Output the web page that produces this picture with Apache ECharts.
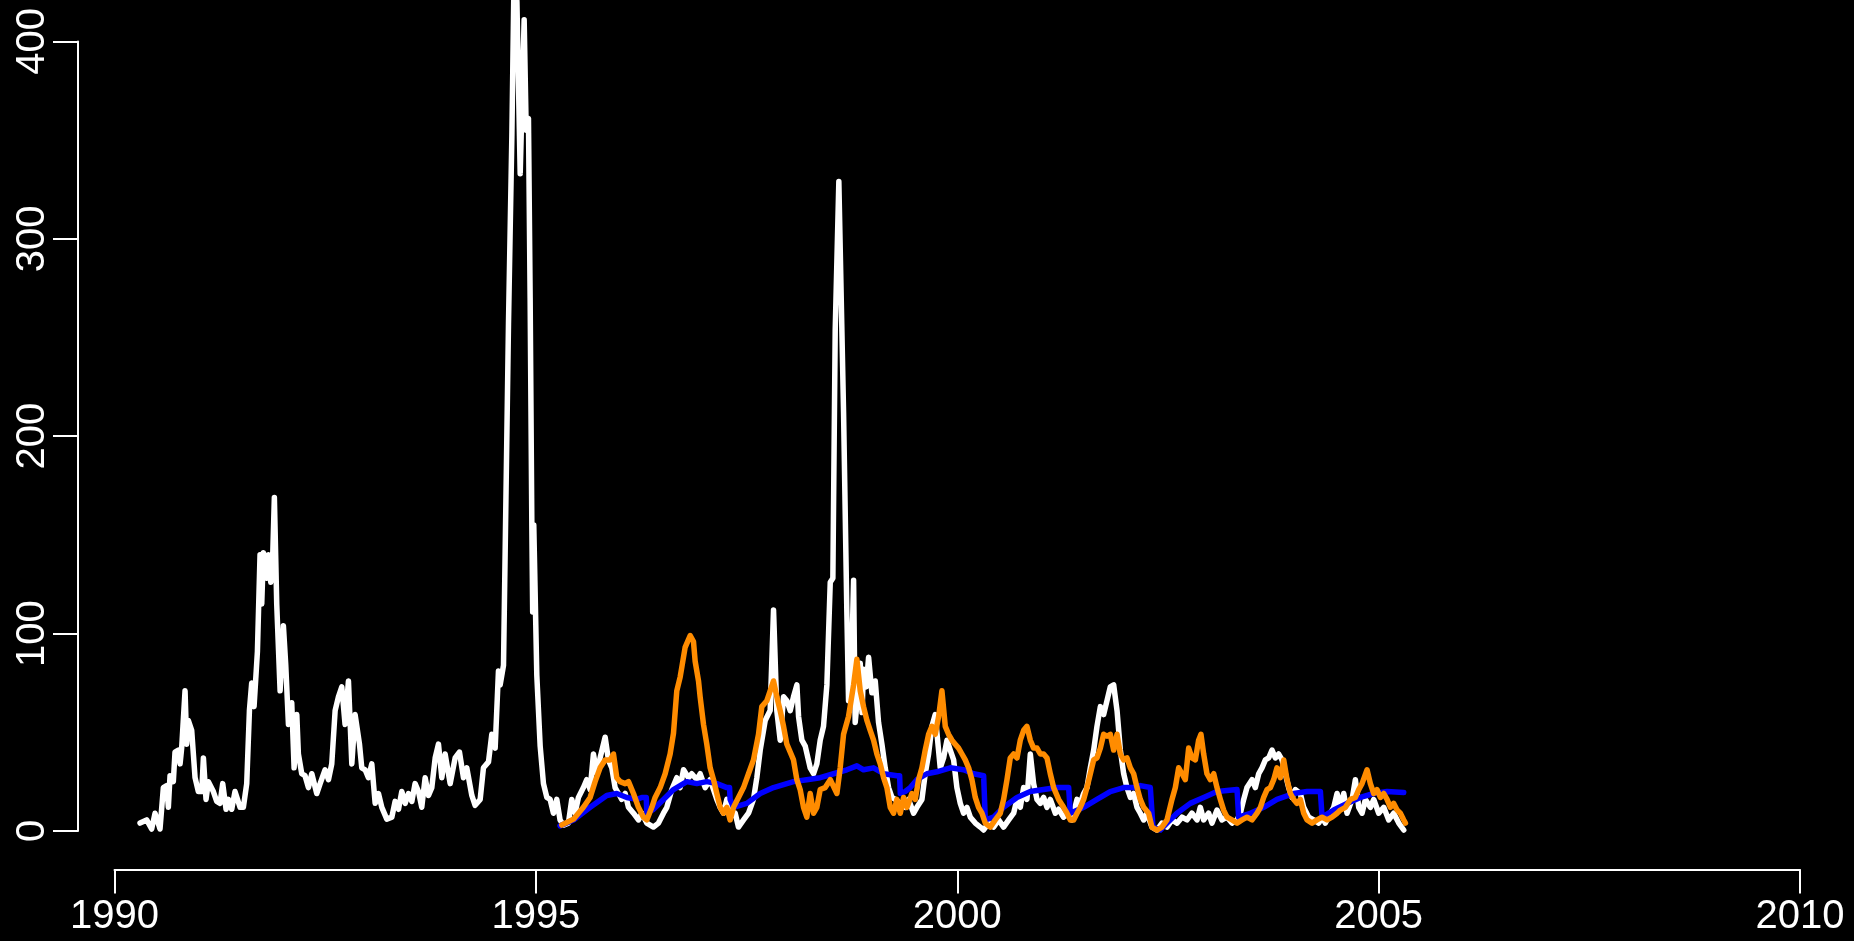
<!DOCTYPE html>
<html>
<head>
<meta charset="utf-8">
<script src="https://cdn.jsdelivr.net/npm/echarts@6/dist/echarts.min.js"></script>
<style>
html,body{margin:0;padding:0;background:#000;}
#chart{width:1854px;height:941px;}
</style>
</head>
<body>
<div id="chart"></div>
<script>
const xTicks = [1990, 1995, 2000, 2005, 2010];
const yTicks = [0, 100, 200, 300, 400];

const observed = [
[1990.303,4],[1990.382,5.6],[1990.441,1],[1990.481,9],[1990.540,1],[1990.580,22],[1990.619,23],[1990.639,12],[1990.659,28],[1990.698,25],[1990.718,40],[1990.758,41],[1990.778,34],[1990.797,42],[1990.837,71],[1990.857,44],[1990.876,56],[1990.916,51],[1990.956,27],[1990.995,20],[1991.035,20],[1991.055,37],[1991.086,16],[1991.114,25],[1991.173,20],[1991.213,15],[1991.252,14],[1991.284,24],[1991.324,11],[1991.351,16],[1991.391,11],[1991.430,20],[1991.490,12],[1991.529,12],[1991.569,24],[1991.601,61],[1991.628,75],[1991.656,63],[1991.696,91],[1991.727,140],[1991.747,115],[1991.767,141],[1991.806,128],[1991.826,140],[1991.854,126],[1991.878,140],[1991.897,169],[1991.925,115],[1991.965,71],[1992.004,104],[1992.032,84],[1992.064,54],[1992.103,65],[1992.131,32],[1992.163,59],[1992.182,39],[1992.222,29],[1992.261,28],[1992.301,22],[1992.341,29],[1992.400,19],[1992.440,24],[1992.499,31],[1992.539,26],[1992.578,34],[1992.618,61],[1992.657,68],[1992.697,73],[1992.736,54],[1992.776,76],[1992.816,34],[1992.855,59],[1992.907,44],[1992.934,32],[1992.974,31],[1993.013,27],[1993.053,34],[1993.093,14],[1993.132,19],[1993.172,12],[1993.231,6],[1993.291,7],[1993.330,15],[1993.370,11],[1993.409,20],[1993.449,14],[1993.488,19],[1993.528,15],[1993.567,24],[1993.607,20],[1993.646,12],[1993.686,27],[1993.726,18],[1993.765,22],[1993.805,37],[1993.844,44],[1993.884,27],[1993.923,39],[1993.983,24],[1994.042,37],[1994.093,40],[1994.141,27],[1994.180,32],[1994.240,18],[1994.279,13],[1994.339,16],[1994.378,32],[1994.438,35],[1994.477,49],[1994.517,42],[1994.556,81],[1994.576,74],[1994.616,84],[1994.647,175],[1994.675,257],[1994.715,352],[1994.745,445],[1994.775,420],[1994.814,333],[1994.861,411],[1994.885,355],[1994.912,361],[1994.932,270],[1994.952,155],[1994.962,111],[1994.975,155],[1995.011,79],[1995.051,43],[1995.090,24],[1995.130,17],[1995.169,16],[1995.208,9],[1995.248,16],[1995.287,5.6],[1995.327,3],[1995.386,4],[1995.426,16],[1995.465,9],[1995.505,17],[1995.564,22],[1995.604,26],[1995.644,21],[1995.683,39],[1995.723,29],[1995.762,37],[1995.822,47.5],[1995.861,36],[1995.901,32],[1995.940,22],[1995.980,19],[1996.019,16],[1996.059,19],[1996.099,12],[1996.158,9],[1996.217,5.6],[1996.257,9],[1996.316,4],[1996.395,2],[1996.455,4],[1996.514,9],[1996.554,12],[1996.613,21],[1996.672,27],[1996.712,22],[1996.752,31],[1996.811,27],[1996.850,29],[1996.910,26],[1996.949,29],[1997.009,22],[1997.068,26],[1997.108,21],[1997.147,16],[1997.187,12],[1997.226,9],[1997.266,16],[1997.305,7],[1997.365,9],[1997.404,2],[1997.464,5.6],[1997.523,9],[1997.582,16],[1997.622,27],[1997.662,41],[1997.721,56],[1997.780,61],[1997.820,112],[1997.859,61],[1997.899,46],[1997.939,68],[1997.978,66],[1998.018,61],[1998.057,68],[1998.097,74],[1998.117,58],[1998.156,46],[1998.196,43],[1998.255,32],[1998.295,29],[1998.334,34],[1998.374,46],[1998.413,53],[1998.453,74],[1998.473,100],[1998.493,126],[1998.524,128],[1998.552,254],[1998.595,329],[1998.651,212],[1998.690,111],[1998.710,66],[1998.738,70],[1998.770,127],[1998.789,55],[1998.817,68],[1998.849,85],[1998.870,60],[1998.888,82],[1998.920,73],[1998.948,88],[1998.987,70],[1999.027,76],[1999.066,55],[1999.106,44],[1999.145,32],[1999.185,22],[1999.225,17],[1999.264,16],[1999.324,14],[1999.383,12],[1999.422,16],[1999.482,9],[1999.521,12],[1999.581,16],[1999.620,29],[1999.660,39],[1999.699,53],[1999.739,59],[1999.767,46],[1999.798,32],[1999.838,37],[1999.878,46],[1999.917,41],[1999.957,36],[1999.996,22],[2000.036,14],[2000.075,9],[2000.115,12],[2000.155,7],[2000.214,4],[2000.273,2],[2000.313,0.5],[2000.372,4],[2000.431,2],[2000.491,5.6],[2000.550,2],[2000.610,5.6],[2000.669,9],[2000.709,16],[2000.748,12],[2000.788,22],[2000.827,16],[2000.867,39],[2000.906,24],[2000.946,16],[2000.986,14],[2001.025,17],[2001.065,12],[2001.104,16],[2001.164,9],[2001.203,11],[2001.262,7],[2001.322,9],[2001.361,5.6],[2001.421,16],[2001.460,14],[2001.500,19],[2001.539,22],[2001.579,32],[2001.619,41],[2001.658,53],[2001.698,63],[2001.737,59],[2001.777,66],[2001.816,73],[2001.856,74],[2001.896,61],[2001.935,41],[2001.975,29],[2002.014,22],[2002.054,17],[2002.093,19],[2002.133,12],[2002.172,9],[2002.212,5.6],[2002.251,9],[2002.310,2],[2002.370,0.5],[2002.429,4],[2002.489,2],[2002.548,5.6],[2002.607,4],[2002.667,7],[2002.726,5.6],[2002.785,9],[2002.845,5.6],[2002.884,12],[2002.924,5.6],[2002.983,9],[2003.023,4],[2003.082,10.6],[2003.141,5.6],[2003.201,7],[2003.260,4],[2003.320,5.6],[2003.359,9],[2003.399,16],[2003.438,22],[2003.498,26],[2003.537,22],[2003.577,29],[2003.616,32],[2003.656,36],[2003.695,37],[2003.735,41],[2003.775,37],[2003.814,39],[2003.854,36],[2003.893,29],[2003.933,22],[2003.972,17],[2004.012,21],[2004.071,19],[2004.111,12],[2004.170,7],[2004.230,5.6],[2004.289,4],[2004.329,7],[2004.368,4],[2004.427,9],[2004.467,12],[2004.507,19],[2004.546,12],[2004.586,19],[2004.625,9],[2004.685,16],[2004.724,26],[2004.764,12],[2004.803,9],[2004.843,16],[2004.902,12],[2004.942,16],[2005.001,9],[2005.061,12],[2005.120,5.6],[2005.179,9],[2005.239,4],[2005.298,0.5]
];

const seasonalMean = [
[1995.287,2.6],[1995.446,5.6],[1995.644,12],[1995.841,18],[1995.960,19],[1996.079,17],[1996.198,16],[1996.257,17],[1996.310,17],[1996.316,9],[1996.395,11],[1996.514,16],[1996.633,21],[1996.791,25],[1996.910,24],[1997.028,25],[1997.147,24],[1997.266,22],[1997.298,22],[1997.305,16],[1997.345,12],[1997.503,14],[1997.662,19],[1997.820,22],[1998.057,25],[1998.215,26],[1998.374,27],[1998.532,29],[1998.690,31],[1998.809,33],[1998.888,31],[1999.007,32],[1999.126,29],[1999.284,28],[1999.316,28],[1999.324,19],[1999.383,20],[1999.442,22],[1999.521,26],[1999.640,29],[1999.759,30],[1999.917,32],[2000.075,31],[2000.194,29],[2000.313,28],[2000.333,5.6],[2000.431,7],[2000.550,12],[2000.709,17],[2000.867,20],[2001.025,21],[2001.183,22],[2001.322,22],[2001.342,9],[2001.500,12],[2001.658,16],[2001.816,20],[2001.975,22],[2002.133,22],[2002.172,23],[2002.291,22],[2002.322,2],[2002.409,0.5],[2002.489,4],[2002.607,9],[2002.765,14],[2002.924,17],[2003.082,20],[2003.320,21],[2003.339,7],[2003.478,9],[2003.636,12],[2003.794,16],[2003.992,19],[2004.151,20],[2004.309,20],[2004.329,7],[2004.467,10.6],[2004.625,14],[2004.783,17],[2004.942,19],[2005.100,20],[2005.298,19.5]
];

const forecast = [
[1995.307,3],[1995.446,6],[1995.564,12],[1995.644,17],[1995.703,25],[1995.762,32],[1995.822,36],[1995.881,36],[1995.921,39],[1995.960,27],[1996.000,25],[1996.059,24],[1996.099,25],[1996.158,19],[1996.217,12],[1996.277,7],[1996.316,5.6],[1996.376,12],[1996.415,17],[1996.475,22],[1996.534,29],[1996.593,39],[1996.633,49.5],[1996.672,71],[1996.712,78],[1996.732,83],[1996.771,93],[1996.831,99],[1996.870,96],[1996.890,86],[1996.930,76],[1996.949,68],[1996.989,54],[1997.028,44],[1997.068,32],[1997.108,26],[1997.147,19],[1997.187,12],[1997.226,9],[1997.266,12],[1997.305,5.6],[1997.345,12],[1997.404,17],[1997.464,22],[1997.523,29],[1997.582,36],[1997.642,49],[1997.681,63],[1997.741,66],[1997.780,71],[1997.820,76],[1997.859,68],[1997.899,61],[1997.939,53],[1997.978,44],[1998.057,36],[1998.097,26],[1998.136,21],[1998.176,12],[1998.215,7],[1998.255,19],[1998.295,9],[1998.334,12],[1998.374,21],[1998.433,22],[1998.493,26],[1998.572,19],[1998.611,32],[1998.651,49],[1998.710,58],[1998.770,74],[1998.809,87],[1998.849,71],[1998.888,63],[1998.928,56],[1998.967,51],[1999.007,46],[1999.047,39],[1999.086,34],[1999.126,27],[1999.165,22],[1999.205,12],[1999.244,9],[1999.284,16],[1999.324,9],[1999.363,17],[1999.403,12],[1999.462,19],[1999.502,16],[1999.541,26],[1999.581,32],[1999.620,41],[1999.660,49],[1999.699,53],[1999.739,49],[1999.779,58],[1999.818,71],[1999.858,53],[1999.897,49],[1999.937,46],[1999.976,44],[2000.016,42],[2000.056,39],[2000.095,36],[2000.135,32],[2000.174,26],[2000.214,17],[2000.253,12],[2000.293,9],[2000.333,4],[2000.392,2],[2000.451,5.6],[2000.511,9],[2000.550,16],[2000.590,26],[2000.629,37],[2000.669,39],[2000.709,37],[2000.748,46],[2000.788,51],[2000.827,53],[2000.867,46],[2000.906,42],[2000.946,42],[2000.986,39],[2001.025,39],[2001.065,37],[2001.104,29],[2001.144,22],[2001.203,16],[2001.262,12],[2001.302,9],[2001.342,5.6],[2001.381,5.6],[2001.421,9],[2001.460,12],[2001.500,16],[2001.539,22],[2001.579,29],[2001.619,36],[2001.658,37],[2001.698,42],[2001.737,49],[2001.777,48],[2001.816,49],[2001.856,41],[2001.896,49],[2001.935,39],[2001.975,36],[2002.014,37],[2002.054,32],[2002.093,29],[2002.133,22],[2002.172,16],[2002.212,12],[2002.271,9],[2002.310,2],[2002.370,0.5],[2002.429,2],[2002.489,5.6],[2002.548,16],[2002.588,22],[2002.627,32],[2002.667,29],[2002.706,26],[2002.746,42],[2002.785,37],[2002.825,36],[2002.864,46],[2002.892,49],[2002.924,39],[2002.963,29],[2003.003,26],[2003.043,29],[2003.082,22],[2003.122,16],[2003.161,10.6],[2003.201,7],[2003.260,5.6],[2003.320,4],[2003.379,5.6],[2003.438,7],[2003.498,5.6],[2003.557,9],[2003.597,12],[2003.636,17],[2003.676,21],[2003.715,22],[2003.755,26],[2003.794,32],[2003.834,27],[2003.874,36],[2003.913,26],[2003.953,19],[2003.992,16],[2004.032,14],[2004.071,16],[2004.111,9],[2004.151,5.6],[2004.210,4],[2004.269,5.6],[2004.329,7],[2004.388,5.6],[2004.447,7],[2004.507,9],[2004.546,10.6],[2004.606,12],[2004.665,16],[2004.724,17],[2004.764,21],[2004.803,24],[2004.863,31],[2004.902,24],[2004.942,19],[2004.981,21],[2005.021,17],[2005.061,19],[2005.100,16],[2005.140,12],[2005.179,14],[2005.219,10.6],[2005.258,9],[2005.298,5.6],[2005.318,4]
];

const FONT = "'Liberation Sans', Arial, Helvetica, sans-serif";
const chart = echarts.init(document.getElementById('chart'), null, {renderer: 'canvas'});

function lineSeries(data, color, width, clip) {
  return {
    type: 'line', data: data, showSymbol: false, symbol: 'none', clip: clip,
    lineStyle: {color: color, width: width, cap: 'round', join: 'round'},
    emphasis: {disabled: true}, silent: true
  };
}

chart.setOption({
  backgroundColor: '#000000',
  animation: false,
  grid: {left: 114.5, right: 54, top: 41.4, bottom: 110, containLabel: false, outerBoundsMode: 'none'},
  xAxis: {
    type: 'value', min: xTicks[0], max: xTicks[xTicks.length - 1], interval: 5,
    offset: 38.5,
    axisLine: {show: true, onZero: false, lineStyle: {color: '#ffffff', width: 2}},
    axisTick: {show: true, length: 24, lineStyle: {color: '#ffffff', width: 2}},
    axisLabel: {color: '#ffffff', fontSize: 40, fontFamily: FONT, margin: 27, formatter: v => String(v)},
    splitLine: {show: false}
  },
  yAxis: {
    type: 'value', min: yTicks[0], max: yTicks[yTicks.length - 1], interval: 100,
    offset: 36.5,
    axisLine: {show: true, lineStyle: {color: '#ffffff', width: 2}},
    axisTick: {show: true, length: 25, lineStyle: {color: '#ffffff', width: 2}},
    axisLabel: {color: '#ffffff', fontSize: 40, fontFamily: FONT, margin: 25, rotate: 90, formatter: v => String(v)},
    splitLine: {show: false}
  },
  series: [
    lineSeries(observed, '#ffffff', 5.5, false),
    lineSeries(seasonalMean, '#0000ff', 5.5, true),
    lineSeries(forecast, '#ff8c00', 5.5, true)
  ]
});
</script>
</body>
</html>
